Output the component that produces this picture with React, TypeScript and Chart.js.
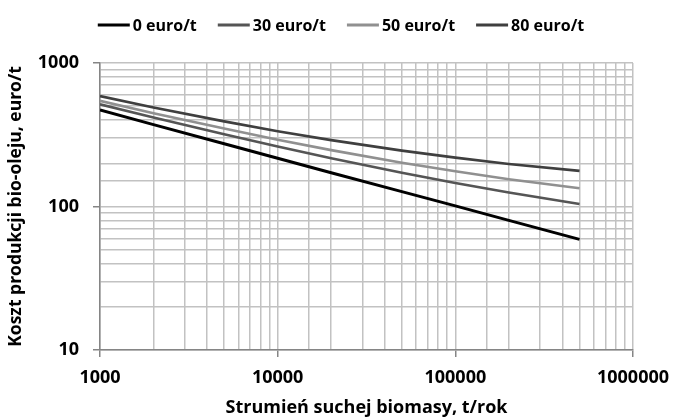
import React, { useEffect, useRef } from 'react';
import { Chart, registerables } from 'chart.js';

Chart.register(...registerables);

const flows = [1000, 2000, 5000, 10000, 20000, 50000, 100000, 200000, 500000];
const cost0 = [470, 372, 274, 217, 172, 127, 101, 80, 59];
const cost30 = [515, 417, 319, 262, 217, 172, 146, 125, 104];
const cost50 = [545, 447, 349, 292, 247, 202, 176, 155, 134];
const cost80 = [588, 490, 392, 335, 290, 245, 219, 198, 177];
const seriesLabels = ['0 euro/t', '30 euro/t', '50 euro/t', '80 euro/t'];
const seriesColors = ['#000000', '#555555', '#909090', '#3f3f3f'];
const xTickLabels = ['1000', '10000', '100000', '1000000'];
const yTickLabels = ['10', '100', '1000'];

const FONT = '"Open Sans", "Liberation Sans", sans-serif';

const legendPlugin = {
  id: 'customLegend',
  afterDraw(chart: any) {
    const ctx = chart.ctx;
    ctx.save();
    ctx.font = `bold 16px ${FONT}`;
    const items = chart.data.datasets.map((ds: any) => ({ label: ds.label, color: ds.borderColor }));
    const lineLen = 32;
    const gap = 3;
    const spacing = 21;
    const widths = items.map((it: any) => lineLen + gap + ctx.measureText(it.label).width);
    const total = widths.reduce((a: number, b: number) => a + b, 0) + spacing * (items.length - 1);
    let x = 341 - total / 2;
    const y = 25;
    items.forEach((it: any, i: number) => {
      ctx.strokeStyle = it.color;
      ctx.lineWidth = 3;
      ctx.beginPath();
      ctx.moveTo(x, y);
      ctx.lineTo(x + lineLen, y);
      ctx.stroke();
      ctx.fillStyle = '#000';
      ctx.textBaseline = 'middle';
      ctx.textAlign = 'left';
      ctx.fillText(it.label, x + lineLen + gap, y + 1);
      x += widths[i] + spacing;
    });
    ctx.restore();
  },
};

const isMajor = (v: number, list: string[]) => list.includes(String(Math.round(v)));

export default function App() {
  const ref = useRef<HTMLCanvasElement | null>(null);

  useEffect(() => {
    document.body.style.margin = '0';
    if (!ref.current) return;
    const series = [cost0, cost30, cost50, cost80];
    const chart = new Chart(ref.current, {
      type: 'line',
      data: {
        datasets: series.map((vals, i) => ({
          label: seriesLabels[i],
          data: flows.map((x, j) => ({ x, y: vals[j] })),
          borderColor: seriesColors[i],
          backgroundColor: seriesColors[i],
          borderWidth: i === 0 ? 3 : 2.6,
          pointRadius: 0,
          tension: 0,
        })),
      },
      options: {
        animation: false,
        responsive: false,
        devicePixelRatio: 1,
        layout: { padding: { top: 63, right: 42, left: 0, bottom: 0 } },
        plugins: {
          legend: { display: false },
          tooltip: { enabled: false },
        },
        scales: {
          x: {
            type: 'logarithmic',
            min: 1000,
            max: 1000000,
            afterFit: (s: any) => { s.height = 69; s.paddingLeft = 0; s.paddingRight = 0; },
            border: { color: '#858585', width: 1.5 },
            grid: {
              color: '#c2c2c2',
              lineWidth: 1.5,
              tickLength: 7,
              tickColor: (c: any) => (c.tick && isMajor(c.tick.value, xTickLabels) ? '#858585' : 'rgba(0,0,0,0)'),
            },
            ticks: {
              autoSkip: false,
              maxRotation: 0,
              padding: 10,
              color: '#000',
              font: { family: FONT, size: 18, weight: 'bold' },
              callback: (v: any) => (isMajor(Number(v), xTickLabels) ? String(Math.round(Number(v))) : ''),
            },
            title: {
              display: true,
              text: 'Strumień suchej biomasy, t/rok',
              color: '#000',
              font: { family: FONT, size: 18, weight: 'bold' },
              padding: { top: 3, bottom: 0 },
            },
          },
          y: {
            type: 'logarithmic',
            min: 10,
            max: 1000,
            afterFit: (s: any) => { s.width = 100; s.paddingTop = 0; s.paddingBottom = 0; },
            border: { color: '#858585', width: 1.5 },
            grid: {
              color: '#c2c2c2',
              lineWidth: 1.5,
              tickLength: 7,
              tickColor: (c: any) => (c.tick && isMajor(c.tick.value, yTickLabels) ? '#858585' : 'rgba(0,0,0,0)'),
            },
            ticks: {
              autoSkip: false,
              padding: 14,
              color: '#000',
              font: { family: FONT, size: 18, weight: 'bold' },
              callback: (v: any) => (isMajor(Number(v), yTickLabels) ? String(Math.round(Number(v))) : ''),
            },
            title: {
              display: true,
              text: 'Koszt produkcji bio-oleju, euro/t',
              color: '#000',
              font: { family: FONT, size: 17.5, weight: 'bold' },
              padding: { top: 6, bottom: 0 },
            },
          },
        },
      },
      plugins: [legendPlugin],
    } as any);
    return () => chart.destroy();
  }, []);

  return (
    <div style={{ width: 675, height: 419 }}>
      <canvas ref={ref} width={675} height={419} />
    </div>
  );
}
